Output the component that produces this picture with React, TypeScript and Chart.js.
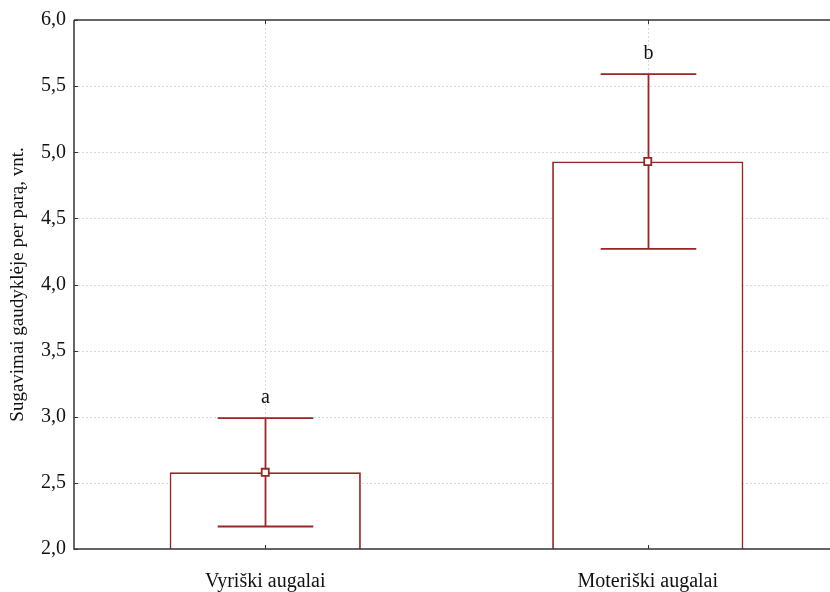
import React, { useEffect, useRef } from "react";
import { Chart, registerables } from "chart.js";

Chart.register(...registerables);

const categories = ["Vyriški augalai", "Moteriški augalai"];
const means = [2.58, 4.93];
const errLow = [2.17, 4.27];
const errHigh = [2.99, 5.59];
const groupLetters = ["a", "b"];
const Y_MIN = 2;
const Y_MAX = 6;
const Y_STEP = 0.5;
const yTitle = "Sugavimai gaudyklėje per parą, vnt.";

const RED = "#982626";
const AXIS = "#333333";
const GRID = "#d9d9d9";
const FONT = "'Liberation Serif', 'Times New Roman', serif";

const decorPlugin = {
  id: "decor",
  beforeDatasetsDraw(chart: any) {
    const { ctx, chartArea, scales } = chart;
    const x = scales.x;
    const y = scales.y;
    ctx.save();
    ctx.strokeStyle = GRID;
    ctx.lineWidth = 1;
    ctx.setLineDash([2, 2]);
    y.ticks.forEach((t: any) => {
      if (t.value <= Y_MIN || t.value >= Y_MAX) return;
      const py = Math.round(y.getPixelForValue(t.value)) + 0.5;
      ctx.beginPath();
      ctx.moveTo(chartArea.left, py);
      ctx.lineTo(chartArea.right, py);
      ctx.stroke();
    });
    categories.forEach((_, i) => {
      const px = Math.round(x.getPixelForValue(i)) + 0.5;
      ctx.beginPath();
      ctx.moveTo(px, chartArea.top);
      ctx.lineTo(px, chartArea.bottom);
      ctx.stroke();
    });
    ctx.restore();
  },
  afterDatasetDraw(chart: any, args: any) {
    if (args.index !== 0) return;
    const { ctx, scales } = chart;
    const x = scales.x;
    const y = scales.y;
    const meta = chart.getDatasetMeta(0);
    ctx.save();
    ctx.strokeStyle = RED;
    ctx.lineWidth = 1.8;
    categories.forEach((_, i) => {
      const px = Math.round(x.getPixelForValue(i)) + 0.5;
      const half = meta.data[i].width / 4;
      const lo = y.getPixelForValue(errLow[i]);
      const hi = y.getPixelForValue(errHigh[i]);
      ctx.beginPath();
      ctx.moveTo(px, lo);
      ctx.lineTo(px, hi);
      ctx.moveTo(px - half, hi);
      ctx.lineTo(px + half, hi);
      ctx.moveTo(px - half, lo);
      ctx.lineTo(px + half, lo);
      ctx.stroke();
      ctx.fillStyle = "#111";
      ctx.font = `20px ${FONT}`;
      ctx.textAlign = "center";
      ctx.textBaseline = "middle";
      ctx.fillText(groupLetters[i], px, hi - 20);
    });
    ctx.restore();
  },
  afterDatasetsDraw(chart: any) {
    const { ctx, chartArea, scales } = chart;
    const x = scales.x;
    const y = scales.y;
    ctx.save();
    ctx.strokeStyle = AXIS;
    ctx.lineWidth = 1.5;
    ctx.beginPath();
    ctx.moveTo(chartArea.left, chartArea.top);
    ctx.lineTo(chartArea.right, chartArea.top);
    ctx.moveTo(chartArea.left, chartArea.top);
    ctx.lineTo(chartArea.left, chartArea.bottom);
    ctx.lineTo(chartArea.right, chartArea.bottom);
    ctx.stroke();
    ctx.lineWidth = 1;
    y.ticks.forEach((t: any) => {
      const py = Math.round(y.getPixelForValue(t.value)) + 0.5;
      ctx.beginPath();
      ctx.moveTo(chartArea.left, py);
      ctx.lineTo(chartArea.left + 4, py);
      ctx.stroke();
    });
    categories.forEach((_, i) => {
      const px = Math.round(x.getPixelForValue(i)) + 0.5;
      ctx.beginPath();
      ctx.moveTo(px, chartArea.bottom);
      ctx.lineTo(px, chartArea.bottom - 4);
      ctx.moveTo(px, chartArea.top);
      ctx.lineTo(px, chartArea.top + 4);
      ctx.stroke();
    });
    ctx.restore();
  },
};

export default function App() {
  const ref = useRef<HTMLCanvasElement | null>(null);
  useEffect(() => {
    if (!ref.current) return;
    const chart = new Chart(ref.current, {
      type: "bar",
      data: {
        labels: categories,
        datasets: [
          {
            type: "bar",
            data: means.map((m) => [Y_MIN, m]) as any,
            backgroundColor: "#ffffff",
            borderColor: RED,
            borderWidth: 1.8,
            borderSkipped: "start",
            categoryPercentage: 1,
            barPercentage: 0.5,
            order: 1,
          },
          {
            type: "line",
            data: means,
            showLine: false,
            pointStyle: "rect",
            pointRadius: 5,
            pointBackgroundColor: "#ffffff",
            pointBorderColor: RED,
            pointBorderWidth: 1.8,
            order: 0,
          } as any,
        ],
      },
      options: {
        animation: false,
        responsive: false,
        maintainAspectRatio: false,
        devicePixelRatio: 1,
        layout: {
          autoPadding: false,
          padding: { top: 18, right: 1, left: 0, bottom: 0 },
        },
        plugins: {
          legend: { display: false },
          tooltip: { enabled: false },
        },
        scales: {
          x: {
            grid: { display: false, offset: false },
            border: { display: false },
            ticks: {
              color: "#111",
              font: { family: FONT, size: 20 },
              padding: 13,
              maxRotation: 0,
            },
            afterFit(scale: any) {
              scale.height = 43;
              scale.paddingLeft = 0;
              scale.paddingRight = 0;
            },
          },
          y: {
            min: Y_MIN,
            max: Y_MAX,
            grid: { display: false, drawTicks: false },
            border: { display: false },
            ticks: {
              stepSize: Y_STEP,
              color: "#111",
              font: { family: FONT, size: 20 },
              padding: 8,
              callback: (v: any) => Number(v).toFixed(1).replace(".", ","),
            },
            title: {
              display: true,
              text: yTitle,
              color: "#111",
              font: { family: FONT, size: 19 },
              padding: { top: 7, bottom: 0 },
            },
            afterFit(scale: any) {
              scale.width = 74;
            },
          },
        },
      },
      plugins: [decorPlugin],
    });
    return () => chart.destroy();
  }, []);
  return (
    <div
      style={{
        position: "fixed",
        left: 0,
        top: 0,
        width: 840,
        height: 592,
        background: "#fff",
        overflow: "hidden",
      }}
    >
      <canvas ref={ref} width={840} height={592} style={{ display: "block" }} />
    </div>
  );
}
